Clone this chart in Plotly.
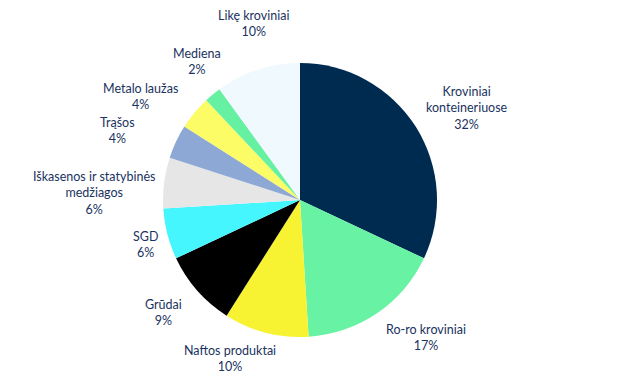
import plotly.graph_objects as go

labels = ["Kroviniai konteineriuose", "Ro-ro kroviniai", "Naftos produktai", "Grūdai", "SGD",
          "Iškasenos ir statybinės medžiagos", "Trąšos", "Metalo laužas", "Mediena", "Likę kroviniai"]
label_text = ["Kroviniai<br>konteineriuose", "Ro-ro kroviniai", "Naftos produktai", "Grūdai", "SGD",
              "Iškasenos ir statybinės<br>medžiagos", "Trąšos", "Metalo laužas", "Mediena", "Likę kroviniai"]
values = [32, 17, 10, 9, 6, 6, 4, 4, 2, 10]
colors = ["#002B50", "#68F2A4", "#F7F232", "#000000", "#45F6FF",
          "#E6E6E6", "#8EA8D6", "#FCFC66", "#66F0A2", "#F0F9FE"]

# label centres in pixels (layout)
label_px = [(467, 108), (426, 337), (230, 358), (163, 312), (145, 244),
            (94, 193), (118, 130), (140, 96), (197, 62), (253, 23)]

W, H = 620, 381
cx, cy, r = 300, 200, 137

fig = go.Figure(go.Pie(
    labels=labels, values=values, sort=False, direction="clockwise", rotation=0,
    marker=dict(colors=colors, line=dict(width=0)),
    textinfo="none", hoverinfo="label+percent",
    domain=dict(x=[(cx - r) / W, (cx + r) / W], y=[(H - cy - r) / H, (H - cy + r) / H]),
    showlegend=False,
))

for t, v, (px, py) in zip(label_text, values, label_px):
    fig.add_annotation(text=f"{t}<br>{v}%", x=px / W, y=1 - py / H, xref="paper", yref="paper",
                       showarrow=False, xanchor="center", yanchor="middle", align="center",
                       font=dict(family="Lato", size=12.5, color="#1A3360"))

fig.update_layout(width=W, height=H, margin=dict(l=0, r=0, t=0, b=0),
                  paper_bgcolor="white", plot_bgcolor="white")
fig.write_html("out.html", config={"displayModeBar": False},
               post_script="document.body.style.margin='0';document.body.style.padding='0';")
